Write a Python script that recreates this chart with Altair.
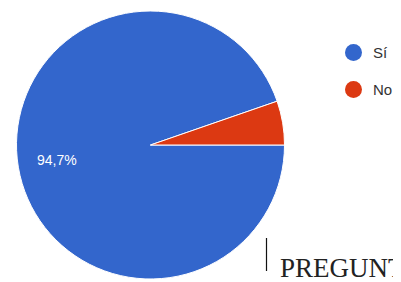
import math
import altair as alt
import pandas as pd

answers = ["Sí", "No"]
shares = [94.7, 5.3]
labels = ["94,7%", ""]
order_idx = [0, 1]
colors = ["#3366CC", "#DC3912"]

df = pd.DataFrame({"answer": answers, "share": shares, "label": labels, "idx": order_idx})

CX, CY, R = 142.5, 137, 134

theta = alt.Theta("share:Q", stack=True, scale=alt.Scale(range=[math.pi / 2, math.pi / 2 + 2 * math.pi]))
order = alt.Order("idx:Q")

pie = alt.Chart(df).mark_arc(radius=R, stroke="white", strokeWidth=1).encode(
    theta=theta,
    order=order,
    x=alt.value(CX),
    y=alt.value(CY),
    color=alt.Color(
        "answer:N",
        scale=alt.Scale(domain=answers, range=colors),
        legend=alt.Legend(
            title=None,
            orient="none",
            legendX=337,
            legendY=36,
            symbolType="circle",
            symbolSize=289,
            symbolStrokeWidth=0,
            labelFontSize=15,
            labelFont="Liberation Sans",
            labelColor="#333333",
            labelOffset=11,
            rowPadding=20,
        ),
    ),
)

text = alt.Chart(df).mark_text(radius=95, color="white", fontSize=14, font="Liberation Sans").encode(
    theta=theta,
    order=order,
    x=alt.value(CX),
    y=alt.value(CY),
    text="label:N",
)

cap = alt.Chart(pd.DataFrame({"t": ["PREGUNTA"]})).mark_text(
    font="Liberation Serif", fontSize=27, align="left", baseline="alphabetic", color="#222222", clip=True
).encode(x=alt.value(272), y=alt.value(269), text="t:N")

cursor = alt.Chart(pd.DataFrame({"a": [0]})).mark_rule(color="#111111", strokeWidth=1.2).encode(
    x=alt.value(258.5), y=alt.value(230), y2=alt.value(263)
)

chart = alt.layer(pie, text, cap, cursor).properties(
    width=385,
    height=274,
    padding=0,
    autosize=alt.AutoSizeParams(type="fit", contains="padding"),
).configure_view(stroke=None)

chart.save("out.html", embed_options={"renderer": "svg", "actions": False})
